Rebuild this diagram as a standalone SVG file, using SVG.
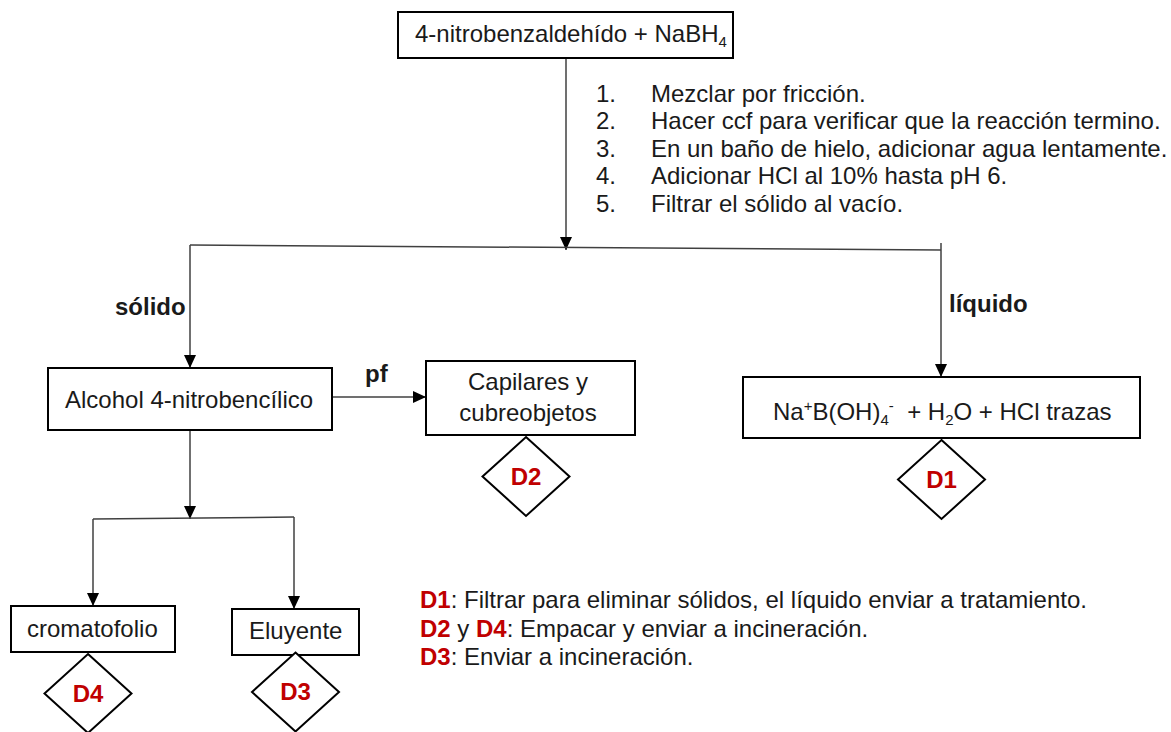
<svg xmlns="http://www.w3.org/2000/svg" width="1171" height="732" viewBox="0 0 1171 732">
<style>
  text { font-family: "Liberation Sans", Arial, sans-serif; font-size: 24px; fill: #1a1a1a; }
  .b { font-weight: bold; }
  .red { fill: #c00000; font-weight: bold; }
  .box { fill: #ffffff; stroke: #000000; stroke-width: 2; }
  .dia { fill: #ffffff; stroke: #000000; stroke-width: 2; }
  .con { fill: none; stroke: #404040; stroke-width: 1.5; }
  .mid { text-anchor: middle; }
  .sm { font-size: 15px; }
</style>
<defs>
  <marker id="arr" viewBox="0 0 13 12" refX="13" refY="6" markerWidth="13" markerHeight="12" markerUnits="userSpaceOnUse" orient="auto">
    <path d="M0,0 L13,6 L0,12 z" fill="#000000"/>
  </marker>
</defs>

<g id="connectors">
  <path class="con" d="M566,58 V250" marker-end="url(#arr)"/>
  <path class="con" d="M190,245 L941,250"/>
  <path class="con" d="M190,245 V368" marker-end="url(#arr)"/>
  <path class="con" d="M941,243 V377" marker-end="url(#arr)"/>
  <path class="con" d="M332,397 H426" marker-end="url(#arr)"/>
  <path class="con" d="M190,430 V519" marker-end="url(#arr)"/>
  <path class="con" d="M93,519 L294,517"/>
  <path class="con" d="M93,519 V606" marker-end="url(#arr)"/>
  <path class="con" d="M294,517 V609" marker-end="url(#arr)"/>
</g>

<g id="start">
  <rect class="box" x="398" y="12" width="335" height="46"/>
  <text x="415" y="42">4-nitrobenzaldehído + NaBH<tspan class="sm" dy="5">4</tspan></text>
</g>

<g id="steps">
  <text x="596" y="102">1.</text><text x="651" y="102">Mezclar por fricción.</text>
  <text x="596" y="129">2.</text><text x="651" y="129">Hacer ccf para verificar que la reacción termino.</text>
  <text x="596" y="157">3.</text><text x="651" y="157">En un baño de hielo, adicionar agua lentamente.</text>
  <text x="596" y="184">4.</text><text x="651" y="184">Adicionar HCl al 10% hasta pH 6.</text>
  <text x="596" y="212">5.</text><text x="651" y="212">Filtrar el sólido al vacío.</text>
</g>

<g id="labels">
  <text class="b" x="115" y="315">sólido</text>
  <text class="b" x="949" y="312">líquido</text>
  <text class="b" x="365" y="382">pf</text>
</g>

<g id="alcohol">
  <rect class="box" x="48" y="368" width="284" height="62"/>
  <text x="65" y="408">Alcohol 4-nitrobencílico</text>
</g>

<g id="capilares">
  <rect class="box" x="426" y="361" width="209" height="74"/>
  <text class="mid" x="528" y="390">Capilares y</text>
  <text class="mid" x="528" y="421">cubreobjetos</text>
</g>

<g id="liquido">
  <rect class="box" x="743" y="377" width="397" height="61"/>
  <text x="773" y="420">Na<tspan class="sm" dy="-9">+</tspan><tspan dy="9">B(OH)</tspan><tspan class="sm" dy="5">4</tspan><tspan class="sm" dy="-14">-</tspan><tspan dy="9" xml:space="preserve">  + H</tspan><tspan class="sm" dy="5">2</tspan><tspan dy="-5">O + HCl trazas</tspan></text>
</g>

<g id="cromatofolio">
  <rect class="box" x="11" y="606" width="164" height="46"/>
  <text x="27" y="637">cromatofolio</text>
</g>

<g id="eluyente">
  <rect class="box" x="232" y="609" width="127" height="46"/>
  <text x="249" y="639">Eluyente</text>
</g>

<g id="d1">
  <polygon class="dia" points="941.5,440 985,479.5 941.5,519 898,479.5"/>
  <text class="red mid" x="941.5" y="488">D1</text>
</g>
<g id="d2">
  <polygon class="dia" points="526,437 569.5,476.5 526,516 482.5,476.5"/>
  <text class="red mid" x="526" y="485">D2</text>
</g>
<g id="d4">
  <polygon class="dia" points="88,654 131.5,693.5 88,733 44.5,693.5"/>
  <text class="red mid" x="88" y="702">D4</text>
</g>
<g id="d3">
  <polygon class="dia" points="295.5,652.5 339,692 295.5,731.5 252,692"/>
  <text class="red mid" x="295.5" y="700">D3</text>
</g>

<g id="legend">
  <text x="420" y="608"><tspan class="red">D1</tspan>: Filtrar para eliminar sólidos, el líquido enviar a tratamiento.</text>
  <text x="420" y="637"><tspan class="red">D2</tspan> y <tspan class="red">D4</tspan>: Empacar y enviar a incineración.</text>
  <text x="420" y="665"><tspan class="red">D3</tspan>: Enviar a incineración.</text>
</g>
</svg>
